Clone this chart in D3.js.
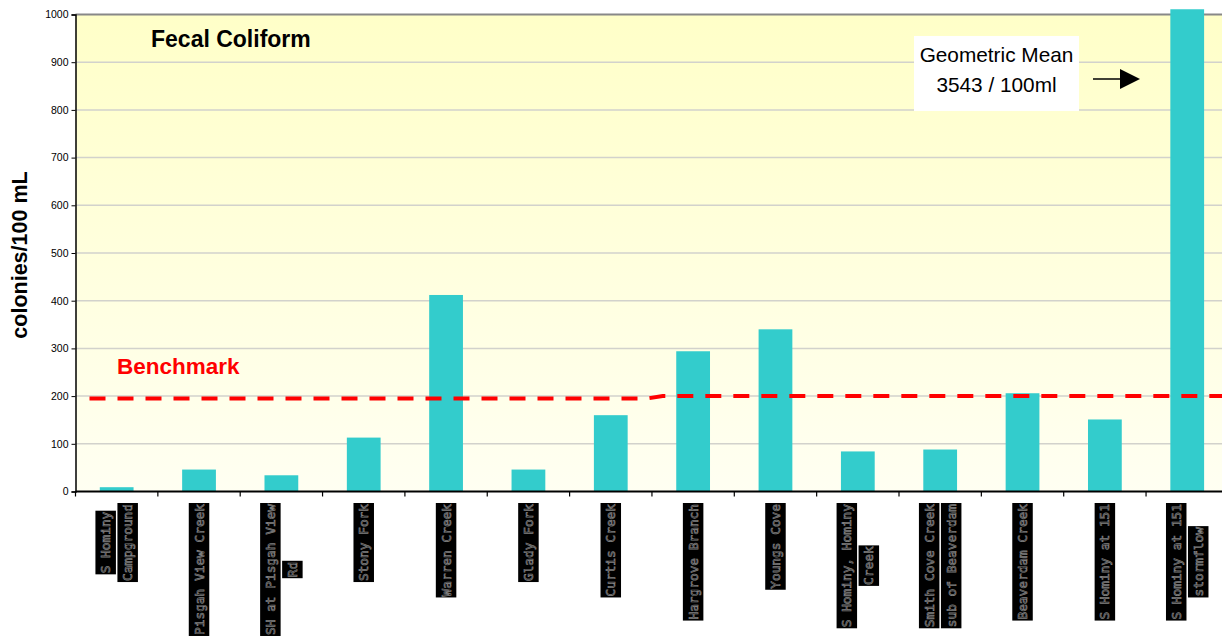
<!DOCTYPE html>
<html>
<head>
<meta charset="utf-8">
<script src="https://cdn.jsdelivr.net/npm/d3@7"></script>
<style>
  html, body { margin: 0; padding: 0; background: #fff; }
  svg { display: block; }
</style>
</head>
<body>
<svg id="chart" width="1222" height="642"></svg>
<script>
// ---- data ----
const categories = [
  "S Hominy\nCampground",
  "Pisgah View Creek",
  "SH at Pisgah View\nRd",
  "Stony Fork",
  "Warren Creek",
  "Glady Fork",
  "Curtis Creek",
  "Hargrove Branch",
  "Youngs Cove",
  "S Hominy, Hominy\nCreek",
  "Smith Cove Creek\nsub of Beaverdam",
  "Beaverdam Creek",
  "S Hominy at 151",
  "S Hominy at 151\nstormflow"
];
const values = [9, 46, 34, 113, 412, 46, 160, 294, 340, 84, 88, 206, 151, 3543];
const yTicks = [0, 100, 200, 300, 400, 500, 600, 700, 800, 900, 1000];
const displayCap = 1011;               // tall bar is cut just above the axis top
const benchmarkPos = [0.17, 6.94, 7.13, 14];   // position along the category axis
const benchmarkVal = [195, 195, 200, 200];
const titleText = "Fecal Coliform";
const yTitle = "colonies/100 mL";
const benchmarkLabel = "Benchmark";
const noteLines = ["Geometric Mean", "3543 / 100ml"];

(function () {
// ---- layout ----
const svg = d3.select("#chart");
const pLeft = 75.5, pRight = 1228.4, pTop = 14.5, pBottom = 491.5;
const sans = "Arial, Liberation Sans, sans-serif";

const x = d3.scaleBand().domain(d3.range(categories.length)).range([pLeft, pRight]).padding(0);
const xl = d3.scaleLinear().domain([0, categories.length]).range([pLeft, pRight]);
const y = d3.scaleLinear().domain([0, 1000]).range([pBottom, pTop]);

const defs = svg.append("defs");
const grad = defs.append("linearGradient").attr("id", "bg").attr("x1", 0).attr("y1", 0).attr("x2", 0).attr("y2", 1);
grad.append("stop").attr("offset", "0%").attr("stop-color", "#ffffc8");
grad.append("stop").attr("offset", "100%").attr("stop-color", "#fffff2");

svg.append("rect").attr("x", pLeft).attr("y", pTop).attr("width", pRight - pLeft).attr("height", pBottom - pTop)
  .attr("fill", "url(#bg)");

// gridlines
svg.append("g").selectAll("line").data(yTicks.filter(d => d > 0 && d < 1000)).join("line")
  .attr("x1", pLeft).attr("x2", pRight).attr("y1", d => y(d)).attr("y2", d => y(d))
  .attr("stroke", "#d2d2cc").attr("stroke-width", 1.5);

// top border
svg.append("line").attr("x1", pLeft).attr("x2", pRight).attr("y1", y(1000)).attr("y2", y(1000))
  .attr("stroke", "#888").attr("stroke-width", 2);

// bars
const bw = x.bandwidth() * 0.41;
svg.append("g").selectAll("rect").data(values).join("rect")
  .attr("x", (d, i) => x(i) + (x.bandwidth() - bw) / 2)
  .attr("width", bw)
  .attr("y", d => y(Math.min(d, displayCap)))
  .attr("height", d => y(0) - y(Math.min(d, displayCap)))
  .attr("fill", "#33cccc");

// benchmark line
const line = d3.line().x(d => xl(d[0])).y(d => y(d[1]));
svg.append("path").datum(benchmarkPos.map((p, i) => [p, benchmarkVal[i]]))
  .attr("d", line).attr("fill", "none").attr("stroke", "#ff0000")
  .attr("stroke-width", 4).attr("stroke-dasharray", "16,12");

// y axis
const yAxis = d3.axisLeft(y).tickValues(yTicks).tickFormat(d3.format("d")).tickSize(4).tickPadding(3);
const gy = svg.append("g").attr("transform", `translate(${pLeft},0)`).call(yAxis);
gy.select(".domain").attr("stroke", "#000").attr("stroke-width", 1.5);
gy.selectAll(".tick line").attr("stroke", "#000");
gy.selectAll(".tick text").attr("font-family", sans).attr("font-size", 10.5).attr("fill", "#000");

// x axis line with ticks at band boundaries
svg.append("line").attr("x1", pLeft).attr("x2", pRight).attr("y1", pBottom).attr("y2", pBottom)
  .attr("stroke", "#000").attr("stroke-width", 2);
svg.append("g").selectAll("line").data(d3.range(categories.length + 1)).join("line")
  .attr("x1", d => xl(d)).attr("x2", d => xl(d)).attr("y1", pBottom).attr("y2", pBottom + 5)
  .attr("stroke", "#000").attr("stroke-width", 1.2);

// category labels: vertical text in black boxes
const labTop = 503, lineGap = 22, boxW = 20.5;
categories.forEach((c, i) => {
  const lines = c.split("\n");
  const cx = x(i) + x.bandwidth() / 2;
  const g = svg.append("g");
  const texts = lines.map((t, j) => {
    const lx = cx + (j - (lines.length - 1) / 2) * lineGap;
    const tx = g.append("text").text(t)
      .attr("font-family", "DejaVu Sans Mono, monospace").attr("font-size", 12.8)
      .attr("text-anchor", "middle").attr("dominant-baseline", "central")
      .attr("fill", "#0b0b0b").attr("stroke", "#808080").attr("stroke-width", 0.7);
    return { tx, lx, len: tx.node().getComputedTextLength() + 2 };
  });
  const maxLen = d3.max(texts, d => d.len);
  const cy = labTop + maxLen / 2;
  texts.forEach(d => {
    g.insert("rect", "text").attr("x", d.lx - boxW / 2).attr("y", cy - d.len / 2)
      .attr("width", boxW).attr("height", d.len).attr("fill", "#000");
    d.tx.attr("transform", `translate(${d.lx},${cy}) rotate(-90)`);
  });
});

// titles
svg.append("text").attr("x", 151).attr("y", 47).text(titleText)
  .attr("font-family", sans).attr("font-weight", "bold")
  .attr("font-size", 23).attr("fill", "#000");

svg.append("text").attr("transform", `translate(27,255) rotate(-90)`)
  .attr("text-anchor", "middle").text(yTitle)
  .attr("font-family", sans).attr("font-weight", "bold")
  .attr("font-size", 21.5).attr("fill", "#000");

svg.append("text").attr("x", 117).attr("y", 374).text(benchmarkLabel)
  .attr("font-family", sans).attr("font-weight", "bold")
  .attr("font-size", 22.5).attr("fill", "#ff0000");

// geometric mean note
svg.append("rect").attr("x", 914).attr("y", 36).attr("width", 165).attr("height", 75).attr("fill", "#fff");
svg.append("g").selectAll("text").data(noteLines).join("text")
  .attr("x", 996.5).attr("y", (d, i) => 62 + i * 29.5).attr("text-anchor", "middle").text(d => d)
  .attr("font-family", sans).attr("font-size", 20.8).attr("fill", "#000");

// arrow
svg.append("line").attr("x1", 1093).attr("x2", 1124).attr("y1", 79).attr("y2", 79)
  .attr("stroke", "#000").attr("stroke-width", 1.5);
svg.append("path").attr("d", d3.line()([[1120, 69], [1140, 79], [1120, 89]]) + "Z").attr("fill", "#000");
})();
</script>
</body>
</html>
